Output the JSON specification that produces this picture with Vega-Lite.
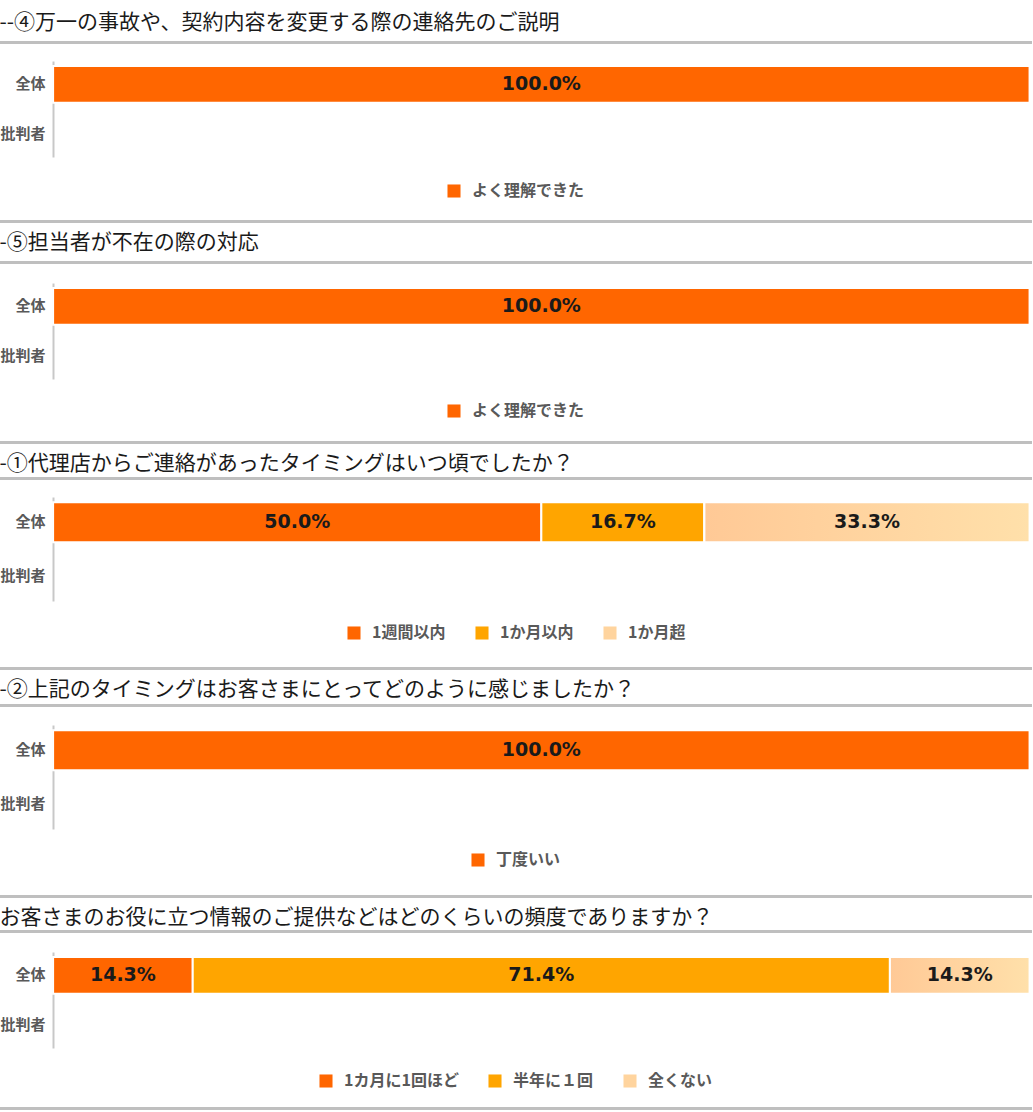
{
  "$schema": "https://vega.github.io/schema/vega-lite/v6.json",
  "background": "white",
  "padding": {"left": -1, "right": 0, "top": 11, "bottom": 2},
  "spacing": 10,
  "config": {
    "view": {"stroke": null},
    "legend": {"layout": {"bottom": {"anchor": "middle"}}}
  },
  "resolve": {"scale": {"color": "independent"}},
  "vconcat": [
    {
      "width": 1033, "height": 96,
      "data": {"values": [{"g": "全体", "c": "よく理解できた", "v": 1.0, "o": 1}]},
      "encoding": {
        "y": {"field": "g", "type": "nominal",
          "scale": {"domain": ["全体", "批判者"], "paddingInner": 0.25, "paddingOuter": 0.1},
          "axis": {"orient": "left", "offset": -54, "title": null, "ticks": false, "domainColor": "#C8C8C8", "domainWidth": 2, "labelFont": "Noto Sans CJK JP", "labelFontSize": 15, "labelFontWeight": "bold", "labelColor": "#595959", "labelPadding": 8}}
      },
      "layer": [
        {"mark": {"type": "bar", "stroke": "white", "strokeWidth": 2},
         "encoding": {
           "x": {"field": "v", "type": "quantitative", "stack": "zero",
             "scale": {"domain": [-0.0554, 1.0025], "nice": false, "zero": false},
             "axis": {"orient": "top", "offset": 19, "domainColor": "#BFBFBF", "domainWidth": 3, "ticks": false, "labels": false, "grid": false,
               "title": "--④万一の事故や、契約内容を変更する際の連絡先のご説明", "titleFont": "Noto Sans CJK JP", "titleFontSize": 21, "titleFontWeight": "normal", "titleColor": "#1a1a1a", "titleAnchor": "start", "titleAlign": "left", "titlePadding": 10}},
           "color": {"field": "c", "type": "nominal", "scale": {"domain": ["よく理解できた"], "range": ["#FF6600"]},
             "legend": {"orient": "bottom", "direction": "horizontal", "title": null, "symbolType": "square", "symbolSize": 170, "symbolStrokeWidth": 0, "labelFont": "Noto Sans CJK JP", "labelFontSize": 16, "labelFontWeight": "bold", "labelColor": "#595959", "labelOffset": 10, "columnPadding": 28, "padding": 0, "offset": -38}},
           "order": {"field": "o", "type": "quantitative"}
         }},
        {"mark": {"type": "text", "font": "DejaVu Sans", "fontSize": 19, "fontWeight": "bold", "fill": "#1a1a1a"},
         "encoding": {
           "x": {"field": "v", "type": "quantitative", "stack": "zero", "bandPosition": 0.5,
             "scale": {"domain": [-0.0554, 1.0025], "nice": false, "zero": false},
             "axis": {"orient": "bottom", "offset": 64, "domainColor": "#BFBFBF", "domainWidth": 3, "ticks": false, "labels": false, "grid": false, "title": null}},
           "text": {"field": "v", "type": "quantitative", "format": ".1%"},
           "order": {"field": "o", "type": "quantitative"}
         }}
      ],
      "resolve": {"scale": {"x": "independent"}}
    },
    {
      "width": 1033, "height": 96,
      "data": {"values": [{"g": "全体", "c": "よく理解できた", "v": 1.0, "o": 1}]},
      "encoding": {
        "y": {"field": "g", "type": "nominal",
          "scale": {"domain": ["全体", "批判者"], "paddingInner": 0.25, "paddingOuter": 0.1},
          "axis": {"orient": "left", "offset": -54, "title": null, "ticks": false, "domainColor": "#C8C8C8", "domainWidth": 2, "labelFont": "Noto Sans CJK JP", "labelFontSize": 15, "labelFontWeight": "bold", "labelColor": "#595959", "labelPadding": 8}}
      },
      "layer": [
        {"mark": {"type": "bar", "stroke": "white", "strokeWidth": 2},
         "encoding": {
           "x": {"field": "v", "type": "quantitative", "stack": "zero",
             "scale": {"domain": [-0.0554, 1.0025], "nice": false, "zero": false},
             "axis": {"orient": "top", "offset": 21, "domainColor": "#BFBFBF", "domainWidth": 3, "ticks": false, "labels": false, "grid": false,
               "title": "-⑤担当者が不在の際の対応", "titleFont": "Noto Sans CJK JP", "titleFontSize": 21, "titleFontWeight": "normal", "titleColor": "#1a1a1a", "titleAnchor": "start", "titleAlign": "left", "titlePadding": 10}},
           "color": {"field": "c", "type": "nominal", "scale": {"domain": ["よく理解できた"], "range": ["#FF6600"]},
             "legend": {"orient": "bottom", "direction": "horizontal", "title": null, "symbolType": "square", "symbolSize": 170, "symbolStrokeWidth": 0, "labelFont": "Noto Sans CJK JP", "labelFontSize": 16, "labelFontWeight": "bold", "labelColor": "#595959", "labelOffset": 10, "columnPadding": 28, "padding": 0, "offset": -39}},
           "order": {"field": "o", "type": "quantitative"}
         }},
        {"mark": {"type": "text", "font": "DejaVu Sans", "fontSize": 19, "fontWeight": "bold", "fill": "#1a1a1a"},
         "encoding": {
           "x": {"field": "v", "type": "quantitative", "stack": "zero", "bandPosition": 0.5,
             "scale": {"domain": [-0.0554, 1.0025], "nice": false, "zero": false},
             "axis": {"orient": "bottom", "offset": 63, "domainColor": "#BFBFBF", "domainWidth": 3, "ticks": false, "labels": false, "grid": false, "title": null}},
           "text": {"field": "v", "type": "quantitative", "format": ".1%"},
           "order": {"field": "o", "type": "quantitative"}
         }}
      ],
      "resolve": {"scale": {"x": "independent"}}
    },
    {
      "width": 1033, "height": 104,
      "data": {"values": [
        {"g": "全体", "c": "1週間以内", "v": 0.5, "o": 1},
        {"g": "全体", "c": "1か月以内", "v": 0.167, "o": 2},
        {"g": "全体", "c": "1か月超", "v": 0.333, "o": 3}
      ]},
      "encoding": {
        "y": {"field": "g", "type": "nominal",
          "scale": {"domain": ["全体", "批判者"], "paddingInner": 0.25, "paddingOuter": 0.1},
          "axis": {"orient": "left", "offset": -54, "title": null, "ticks": false, "domainColor": "#C8C8C8", "domainWidth": 2, "labelFont": "Noto Sans CJK JP", "labelFontSize": 15, "labelFontWeight": "bold", "labelColor": "#595959", "labelPadding": 8}}
      },
      "layer": [
        {"mark": {"type": "bar", "stroke": "white", "strokeWidth": 2},
         "encoding": {
           "x": {"field": "v", "type": "quantitative", "stack": "zero",
             "scale": {"domain": [-0.0554, 1.0025], "nice": false, "zero": false},
             "axis": {"orient": "top", "offset": 19, "domainColor": "#BFBFBF", "domainWidth": 3, "ticks": false, "labels": false, "grid": false,
               "title": "-①代理店からご連絡があったタイミングはいつ頃でしたか？", "titleFont": "Noto Sans CJK JP", "titleFontSize": 21, "titleFontWeight": "normal", "titleColor": "#1a1a1a", "titleAnchor": "start", "titleAlign": "left", "titlePadding": 5}},
           "color": {"field": "c", "type": "nominal", "scale": {"domain": ["1週間以内", "1か月以内", "1か月超"], "range": ["#FF6600", "#FFA500", "#FFD49E"]},
             "legend": {"orient": "bottom", "direction": "horizontal", "title": null, "symbolType": "square", "symbolSize": 170, "symbolStrokeWidth": 0, "labelFont": "Noto Sans CJK JP", "labelFontSize": 16, "labelFontWeight": "bold", "labelColor": "#595959", "labelOffset": 10, "columnPadding": 28, "padding": 0, "offset": -43}},
           "order": {"field": "o", "type": "quantitative"}
         }},
        {"transform": [
           {"stack": "v", "groupby": ["g"], "sort": [{"field": "o"}], "as": ["v0", "v1"]},
           {"filter": "datum.o == 3"}
         ],
         "mark": {"type": "bar", "stroke": "white", "strokeWidth": 2,
           "fill": {"gradient": "linear", "x1": 0, "x2": 1, "y1": 0, "y2": 0, "stops": [{"offset": 0, "color": "#FFC996"}, {"offset": 1, "color": "#FFE0AA"}]}},
         "encoding": {
           "x": {"field": "v0", "type": "quantitative", "scale": {"domain": [-0.0554, 1.0025], "nice": false, "zero": false}, "axis": null},
           "x2": {"field": "v1"}
         }},
        {"mark": {"type": "text", "font": "DejaVu Sans", "fontSize": 19, "fontWeight": "bold", "fill": "#1a1a1a"},
         "encoding": {
           "x": {"field": "v", "type": "quantitative", "stack": "zero", "bandPosition": 0.5,
             "scale": {"domain": [-0.0554, 1.0025], "nice": false, "zero": false},
             "axis": {"orient": "bottom", "offset": 67, "domainColor": "#BFBFBF", "domainWidth": 3, "ticks": false, "labels": false, "grid": false, "title": null}},
           "text": {"field": "v", "type": "quantitative", "format": ".1%"},
           "order": {"field": "o", "type": "quantitative"}
         }}
      ],
      "resolve": {"scale": {"x": "independent"}}
    },
    {
      "width": 1033, "height": 104,
      "data": {"values": [{"g": "全体", "c": "丁度いい", "v": 1.0, "o": 1}]},
      "encoding": {
        "y": {"field": "g", "type": "nominal",
          "scale": {"domain": ["全体", "批判者"], "paddingInner": 0.25, "paddingOuter": 0.1},
          "axis": {"orient": "left", "offset": -54, "title": null, "ticks": false, "domainColor": "#C8C8C8", "domainWidth": 2, "labelFont": "Noto Sans CJK JP", "labelFontSize": 15, "labelFontWeight": "bold", "labelColor": "#595959", "labelPadding": 8}}
      },
      "layer": [
        {"mark": {"type": "bar", "stroke": "white", "strokeWidth": 2},
         "encoding": {
           "x": {"field": "v", "type": "quantitative", "stack": "zero",
             "scale": {"domain": [-0.0554, 1.0025], "nice": false, "zero": false},
             "axis": {"orient": "top", "offset": 20, "domainColor": "#BFBFBF", "domainWidth": 3, "ticks": false, "labels": false, "grid": false,
               "title": "-②上記のタイミングはお客さまにとってどのように感じましたか？", "titleFont": "Noto Sans CJK JP", "titleFontSize": 21, "titleFontWeight": "normal", "titleColor": "#1a1a1a", "titleAnchor": "start", "titleAlign": "left", "titlePadding": 6}},
           "color": {"field": "c", "type": "nominal", "scale": {"domain": ["丁度いい"], "range": ["#FF6600"]},
             "legend": {"orient": "bottom", "direction": "horizontal", "title": null, "symbolType": "square", "symbolSize": 170, "symbolStrokeWidth": 0, "labelFont": "Noto Sans CJK JP", "labelFontSize": 16, "labelFontWeight": "bold", "labelColor": "#595959", "labelOffset": 10, "columnPadding": 28, "padding": 0, "offset": -44}},
           "order": {"field": "o", "type": "quantitative"}
         }},
        {"mark": {"type": "text", "font": "DejaVu Sans", "fontSize": 19, "fontWeight": "bold", "fill": "#1a1a1a"},
         "encoding": {
           "x": {"field": "v", "type": "quantitative", "stack": "zero", "bandPosition": 0.5,
             "scale": {"domain": [-0.0554, 1.0025], "nice": false, "zero": false},
             "axis": {"orient": "bottom", "offset": 67, "domainColor": "#BFBFBF", "domainWidth": 3, "ticks": false, "labels": false, "grid": false, "title": null}},
           "text": {"field": "v", "type": "quantitative", "format": ".1%"},
           "order": {"field": "o", "type": "quantitative"}
         }}
      ],
      "resolve": {"scale": {"x": "independent"}}
    },
    {
      "width": 1033, "height": 96,
      "data": {"values": [
        {"g": "全体", "c": "1カ月に1回ほど", "v": 0.143, "o": 1},
        {"g": "全体", "c": "半年に１回", "v": 0.714, "o": 2},
        {"g": "全体", "c": "全くない", "v": 0.143, "o": 3}
      ]},
      "encoding": {
        "y": {"field": "g", "type": "nominal",
          "scale": {"domain": ["全体", "批判者"], "paddingInner": 0.25, "paddingOuter": 0.1},
          "axis": {"orient": "left", "offset": -54, "title": null, "ticks": false, "domainColor": "#C8C8C8", "domainWidth": 2, "labelFont": "Noto Sans CJK JP", "labelFontSize": 15, "labelFontWeight": "bold", "labelColor": "#595959", "labelPadding": 8}}
      },
      "layer": [
        {"mark": {"type": "bar", "stroke": "white", "strokeWidth": 2},
         "encoding": {
           "x": {"field": "v", "type": "quantitative", "stack": "zero",
             "scale": {"domain": [-0.0554, 1.0025], "nice": false, "zero": false},
             "axis": {"orient": "top", "offset": 21, "domainColor": "#BFBFBF", "domainWidth": 3, "ticks": false, "labels": false, "grid": false,
               "title": "お客さまのお役に立つ情報のご提供などはどのくらいの頻度でありますか？", "titleFont": "Noto Sans CJK JP", "titleFontSize": 21, "titleFontWeight": "normal", "titleColor": "#1a1a1a", "titleAnchor": "start", "titleAlign": "left", "titlePadding": 4}},
           "color": {"field": "c", "type": "nominal", "scale": {"domain": ["1カ月に1回ほど", "半年に１回", "全くない"], "range": ["#FF6600", "#FFA500", "#FFD49E"]},
             "legend": {"orient": "bottom", "direction": "horizontal", "title": null, "symbolType": "square", "symbolSize": 170, "symbolStrokeWidth": 0, "labelFont": "Noto Sans CJK JP", "labelFontSize": 16, "labelFontWeight": "bold", "labelColor": "#595959", "labelOffset": 10, "columnPadding": 28, "padding": 0, "offset": -35}},
           "order": {"field": "o", "type": "quantitative"}
         }},
        {"transform": [
           {"stack": "v", "groupby": ["g"], "sort": [{"field": "o"}], "as": ["v0", "v1"]},
           {"filter": "datum.o == 3"}
         ],
         "mark": {"type": "bar", "stroke": "white", "strokeWidth": 2,
           "fill": {"gradient": "linear", "x1": 0, "x2": 1, "y1": 0, "y2": 0, "stops": [{"offset": 0, "color": "#FFC996"}, {"offset": 1, "color": "#FFE0AA"}]}},
         "encoding": {
           "x": {"field": "v0", "type": "quantitative", "scale": {"domain": [-0.0554, 1.0025], "nice": false, "zero": false}, "axis": null},
           "x2": {"field": "v1"}
         }},
        {"mark": {"type": "text", "font": "DejaVu Sans", "fontSize": 19, "fontWeight": "bold", "fill": "#1a1a1a"},
         "encoding": {
           "x": {"field": "v", "type": "quantitative", "stack": "zero", "bandPosition": 0.5,
             "scale": {"domain": [-0.0554, 1.0025], "nice": false, "zero": false},
             "axis": {"orient": "bottom", "offset": 60, "domainColor": "#BFBFBF", "domainWidth": 3, "ticks": false, "labels": false, "grid": false, "title": null}},
           "text": {"field": "v", "type": "quantitative", "format": ".1%"},
           "order": {"field": "o", "type": "quantitative"}
         }}
      ],
      "resolve": {"scale": {"x": "independent"}}
    }
  ]
}
